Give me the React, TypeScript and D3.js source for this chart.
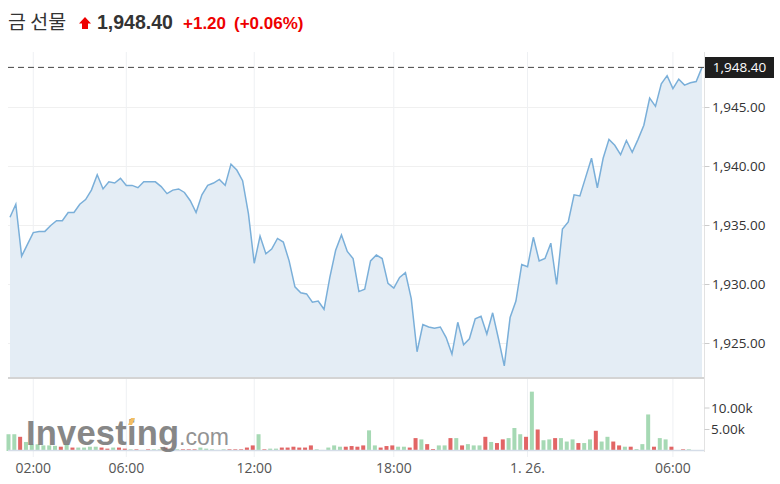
import React from "react";
import * as d3 from "d3";

const priceValues: number[] = [
  1935.7, 1936.8, 1932.4, 1933.4, 1934.4, 1934.5, 1934.5, 1935.0, 1935.4, 1935.4,
  1936.1, 1936.1, 1936.8, 1937.2, 1938.0, 1939.3, 1938.1, 1938.7, 1938.6, 1939.0,
  1938.4, 1938.4, 1938.2, 1938.7, 1938.7, 1938.7, 1938.3, 1937.7, 1938.0, 1938.1,
  1937.8, 1937.1, 1936.1, 1937.6, 1938.4, 1938.6, 1938.9, 1938.4, 1940.2, 1939.7,
  1938.8, 1936.0, 1931.8, 1934.1, 1932.6, 1933.0, 1933.9, 1933.6, 1932.0, 1929.8,
  1929.3, 1929.2, 1928.5, 1928.6, 1927.9, 1930.6, 1932.9, 1934.2, 1932.8, 1932.2,
  1929.4, 1929.6, 1932.0, 1932.5, 1932.2, 1930.1, 1929.7, 1930.6, 1931.0, 1928.8,
  1924.3, 1926.6, 1926.4, 1926.3, 1926.4, 1925.5, 1924.1, 1926.8, 1924.9, 1925.4,
  1927.1, 1927.3, 1925.8, 1927.6, 1925.4, 1923.1, 1927.2, 1928.6, 1931.7, 1931.5,
  1934.0, 1932.0, 1932.2, 1933.5, 1930.0, 1934.7, 1935.3, 1937.6, 1937.5, 1939.1,
  1940.7, 1938.2, 1940.7, 1942.3, 1941.8, 1941.0, 1942.2, 1941.2, 1942.3, 1943.5,
  1945.8, 1945.1, 1947.0, 1947.7, 1946.6, 1947.4, 1946.9, 1947.1, 1947.2, 1948.4,
];

// volume in thousands
const volumeValues: number[] = [
  3.9, 3.9, 3.3, 2.1, 1.55, 1.55, 1.3, 1.3, 1.2, 1.0,
  1.55, 0.8, 0.8, 0.8, 1.0, 1.0, 0.8, 0.55, 0.8, 0.8,
  0.55, 0.4, 0.4, 0.25, 0.4, 0.4, 0.4, 0.8, 0.4, 0.4,
  0.4, 0.4, 0.4, 0.8, 0.55, 0.4, 0.25, 0.4, 0.4, 0.4,
  0.4, 0.8, 1.3, 3.9, 0.4, 0.55, 0.55, 0.8, 0.8, 1.0,
  0.8, 0.8, 1.3, 0.4, 0.25, 0.8, 1.3, 1.0, 1.0, 1.15,
  1.0, 1.3, 4.8, 1.3, 0.8, 1.15, 1.3, 1.0, 1.0, 0.8,
  3.0, 2.7, 1.6, 0.45, 1.3, 1.3, 3.0, 3.0, 1.3, 1.6,
  1.3, 1.3, 3.3, 2.1, 1.85, 2.7, 3.0, 5.35, 3.9, 3.3,
  13.8, 5.0, 2.5, 2.7, 3.0, 3.0, 2.2, 2.7, 1.85, 1.85,
  2.7, 4.7, 2.2, 3.3, 2.2, 1.3, 1.0, 1.0, 0.45, 1.6,
  8.5, 1.0, 3.0, 2.7, 1.0, 0.15, 0.4, 0.4, 0, 0,
];

// 1 = up (green), 0 = down (red)
const volumeDirection: number[] = [
  1, 1, 0, 1, 1, 1, 1, 1, 1, 0,
  1, 0, 1, 1, 1, 1, 0, 0, 1, 0,
  0, 1, 0, 1, 0, 1, 1, 0, 0, 1,
  0, 0, 0, 1, 1, 1, 1, 1, 0, 0,
  0, 0, 0, 1, 0, 1, 1, 0, 0, 0,
  0, 0, 0, 1, 1, 1, 1, 1, 0, 0,
  0, 0, 1, 1, 0, 0, 0, 1, 1, 0,
  0, 1, 0, 0, 1, 1, 0, 1, 0, 1,
  1, 1, 0, 1, 0, 0, 1, 1, 1, 0,
  1, 0, 1, 1, 0, 1, 1, 1, 0, 1,
  1, 0, 1, 1, 0, 0, 1, 0, 1, 1,
  1, 0, 1, 1, 0, 1, 0, 1, 1, 1,
];

const timeTickIndex: number[] = [4, 20, 42, 66, 89, 114];
const timeTickLabels: string[] = ["02:00", "06:00", "12:00", "18:00", "1. 26.", "06:00"];
const priceTicks: number[] = [1925, 1930, 1935, 1940, 1945];
const volumeTicks: number[] = [5, 10];

const lastPrice = 1948.4;
const titleText = "금 선물";
const lastPriceText = "1,948.40";
const changeText = "+1.20";
const changePctText = "(+0.06%)";

export default function App() {
  const x = d3.scaleLinear().domain([0, priceValues.length - 1]).range([10, 702]);
  const y = d3.scaleLinear().domain([1925, 1945]).range([343.5, 107.5]);
  const yv = d3.scaleLinear().domain([0, 10]).range([451, 408]);

  const paneBottom = 378;
  const axisX = 704.5;

  const line = d3
    .line<number>()
    .x((_, i) => x(i))
    .y((d) => y(d));
  const area = d3
    .area<number>()
    .x((_, i) => x(i))
    .y0(paneBottom)
    .y1((d) => y(d));

  const fmtPrice = d3.format(",.2f");
  const fmtVol = (v: number) => d3.format(".2f")(v) + "k";

  const axisFont = "'Open Sans', 'Noto Sans', sans-serif";
  const headFont = "'Liberation Sans', Arial, sans-serif";

  return (
    <svg
      width={780}
      height={484}
      style={{ position: "fixed", left: 0, top: 0, display: "block", background: "#fff" }}
    >
      {/* header */}
      <text x={8} y={29} fontFamily="'Noto Sans CJK KR', sans-serif" fontSize={19.5} fill="#333">
        {titleText}
      </text>
      <path d="M85,17 L91,23.5 L88,23.5 L88,29 L82,29 L82,23.5 L79,23.5 Z" fill="#e00" />
      <text x={97} y={29} fontFamily={headFont} fontWeight="bold" fontSize={19.5} fill="#333">
        {lastPriceText}
      </text>
      <text x={183} y={29} fontFamily={headFont} fontWeight="bold" fontSize={17} fill="#e00">
        {changeText}
      </text>
      <text x={234} y={29} fontFamily={headFont} fontWeight="bold" fontSize={17} fill="#e00">
        {changePctText}
      </text>

      {/* horizontal grid */}
      {priceTicks.map((t) => (
        <line key={"hg" + t} x1={8} x2={axisX} y1={y(t)} y2={y(t)} stroke="#f0f0f0" />
      ))}
      {/* vertical grid */}
      {timeTickIndex.map((ti, k) => (
        <line
          key={"vg" + k}
          x1={x(ti)}
          x2={x(ti)}
          y1={52}
          y2={457}
          stroke="#eef0f3"
        />
      ))}

      {/* area + line */}
      <path d={area(priceValues) || ""} fill="#e4edf5" />
      <path d={line(priceValues) || ""} fill="none" stroke="#7aafd9" strokeWidth={1.5} />

      {/* last price dashed line */}
      <line
        x1={8}
        x2={axisX}
        y1={y(lastPrice)}
        y2={y(lastPrice)}
        stroke="#444"
        strokeDasharray="6,4"
      />

      {/* pane separator */}
      <line x1={8} x2={axisX} y1={paneBottom} y2={paneBottom} stroke="#d4d4d4" strokeWidth={2} />

      {/* volume bars */}
      {volumeValues.map((v, i) =>
        v > 0 ? (
          <rect
            key={"vb" + i}
            x={x(i) - 3.5}
            width={4}
            y={yv(v)}
            height={yv(0) - yv(v)}
            fill={volumeDirection[i] ? "#a6d9b4" : "#e26565"}
          />
        ) : null
      )}
      <line x1={8} x2={axisX} y1={450.5} y2={450.5} stroke="#d5dde8" strokeWidth={1.5} />

      {/* watermark */}
      <g opacity={0.88}>
        <text
          x={26}
          y={445}
          fontFamily={headFont}
          fontWeight="bold"
          fontSize={34.5}
          fill="#777"
          letterSpacing={0.2}
        >
          Investing
        </text>
        <text x={179} y={445} fontFamily={headFont} fontSize={23} fill="#858585">
          .com
        </text>
        <path d="M128,425 L131,418 L135,418 L132,425 Z" fill="#f2b54d" />
      </g>

      {/* right axis */}
      <line x1={axisX} x2={axisX} y1={52} y2={452} stroke="#e2e2e2" />
      {priceTicks.map((t) => (
        <g key={"pt" + t}>
          <line x1={axisX} x2={axisX + 5} y1={y(t)} y2={y(t)} stroke="#ccc" />
          <text
            x={712}
            y={y(t)}
            dy="0.35em"
            fontFamily={axisFont}
            fontSize={13.5}
            fill="#333"
          >
            {fmtPrice(t)}
          </text>
        </g>
      ))}
      {volumeTicks.map((t) => (
        <g key={"vt" + t}>
          <line x1={axisX} x2={axisX + 5} y1={yv(t)} y2={yv(t)} stroke="#ccc" />
          <text
            x={711}
            y={yv(t)}
            dy="0.35em"
            fontFamily={axisFont}
            fontSize={13.5}
            fill="#333"
          >
            {fmtVol(t)}
          </text>
        </g>
      ))}

      {/* current price label */}
      <rect x={705} y={57} width={69} height={21} fill="#1e1e1e" />
      <text
        x={739.5}
        y={67.5}
        dy="0.35em"
        textAnchor="middle"
        fontFamily={axisFont}
        fontSize={13.5}
        fill="#fff"
      >
        {fmtPrice(lastPrice)}
      </text>

      {/* time axis labels */}
      {timeTickIndex.map((ti, k) => (
        <text
          key={"tl" + k}
          x={x(ti)}
          y={473}
          textAnchor="middle"
          fontFamily={axisFont}
          fontSize={14}
          fill="#555"
        >
          {timeTickLabels[k]}
        </text>
      ))}
    </svg>
  );
}
